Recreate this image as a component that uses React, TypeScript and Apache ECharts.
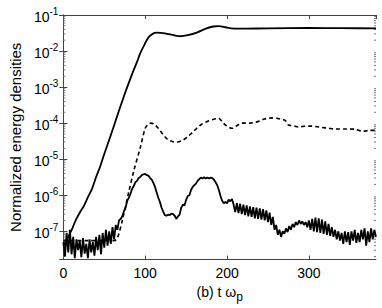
import React, { useEffect, useRef } from "react";
import * as echarts from "echarts";

// ---- axis ranges / ticks ----
const X_MIN = 0;
const X_MAX = 382;
const X_INTERVAL = 100;
const Y_MIN = 1.64e-8;
const Y_MAX = 1e-1;
const MINOR_MANTISSAS = [2, 3, 4, 5, 6, 7, 8, 9];
const MINOR_DECADES = [1e-8, 1e-7, 1e-6, 1e-5, 1e-4, 1e-3, 1e-2];

const X_NAME = "(b) t ω";
const X_NAME_SUB = "p";
const Y_NAME = "Normalized energy densities";

// ---- series 1: upper solid line ----
const upperT = [0, 5, 10, 15, 21, 25, 30, 35, 40, 45, 50, 57, 65, 74, 78, 84, 90, 94, 100, 104, 109, 114, 124, 135, 143, 152, 163, 175, 183, 190, 198, 205, 214, 250, 300, 340, 382];
const upperV = [4.0e-8, 6.3e-8, 1.07e-7, 2.0e-7, 3.6e-7, 5.0e-7, 8.9e-7, 1.5e-6, 3.2e-6, 6.3e-6, 1.4e-5, 4.0e-5, 1.4e-4, 5.6e-4, 1.0e-3, 2.3e-3, 5.0e-3, 8.7e-3, 1.66e-2, 2.4e-2, 3.0e-2, 3.24e-2, 3.1e-2, 2.75e-2, 2.57e-2, 2.75e-2, 3.24e-2, 4.27e-2, 4.8e-2, 4.9e-2, 4.57e-2, 4.27e-2, 4.17e-2, 4.27e-2, 4.37e-2, 4.3e-2, 4.27e-2];

// ---- series 2: dashed line ----
const dashT = [0, 30, 62, 66, 72, 80, 86, 94, 100, 104, 107, 111, 116, 122, 127.5, 133, 139, 145, 151, 157, 163, 169, 175, 182, 190, 194, 198, 206, 212, 218, 222, 228, 234, 240, 245.6, 255, 262, 267, 271, 275, 281, 287, 294, 301, 308, 316, 324, 332, 345, 356, 366, 374, 382];
const dashV = [5.5e-8, 5.5e-8, 5.5e-8, 6.5e-8, 2.0e-7, 1.26e-6, 4.7e-6, 2.1e-5, 7.2e-5, 9.5e-5, 1.0e-4, 9.3e-5, 7.2e-5, 4.8e-5, 3.5e-5, 3.1e-5, 3.0e-5, 3.3e-5, 4.0e-5, 5.4e-5, 7.2e-5, 9.3e-5, 1.1e-4, 1.25e-4, 1.35e-4, 1.1e-4, 8.9e-5, 7.2e-5, 8.5e-5, 1.0e-4, 1.0e-4, 1.0e-4, 1.05e-4, 1.15e-4, 1.3e-4, 1.4e-4, 1.35e-4, 1.26e-4, 1.2e-4, 8.9e-5, 8.5e-5, 7.8e-5, 8.2e-5, 8.3e-5, 8.1e-5, 7.6e-5, 7.2e-5, 6.9e-5, 6.9e-5, 6.8e-5, 5.9e-5, 6.3e-5, 6.3e-5];

// ---- series 3: lower noisy solid line, sampled every LOW_STEP from LOW_T0 ----
const LOW_T0 = 0;
const LOW_STEP = 2;
const lowV = [
  // t = 0 .. 68
  5.0e-8, 2.0e-8, 9.0e-8, 2.6e-8, 1.1e-7, 2.3e-8, 7.0e-8, 1.8e-8, 6.0e-8, 3.0e-8,
  5.5e-8, 1.9e-8, 6.5e-8, 2.4e-8, 4.5e-8, 1.8e-8, 6.0e-8, 2.6e-8, 5.0e-8, 2.1e-8,
  7.0e-8, 3.0e-8, 8.0e-8, 2.3e-8, 9.0e-8, 3.5e-8, 1.1e-7, 4.0e-8, 1.0e-7, 4.5e-8,
  1.3e-7, 6.0e-8, 1.5e-7, 1.1e-7, 2.0e-7,
  // t = 70 .. 206
  2.2e-7, 2.6e-7, 3.6e-7, 4.5e-7, 7.0e-7, 8.5e-7, 1.1e-6, 1.5e-6, 1.8e-6, 2.3e-6,
  2.5e-6, 3.0e-6, 3.2e-6, 3.7e-6, 3.8e-6, 3.9e-6, 3.6e-6, 3.5e-6, 3.0e-6, 2.7e-6,
  2.2e-6, 1.7e-6, 1.2e-6, 8.5e-7, 6.5e-7, 4.5e-7, 3.5e-7, 2.8e-7, 2.7e-7, 2.9e-7,
  2.8e-7, 3.1e-7, 3.0e-7, 2.7e-7, 2.2e-7, 2.6e-7, 2.9e-7, 4.5e-7, 5.5e-7, 5.2e-7,
  7.5e-7, 9.5e-7, 1.0e-6, 1.4e-6, 1.7e-6, 1.9e-6, 2.1e-6, 2.5e-6, 2.8e-6, 3.1e-6,
  2.9e-6, 3.2e-6, 2.9e-6, 3.1e-6, 2.9e-6, 3.1e-6, 3.0e-6, 2.7e-6, 2.3e-6, 1.9e-6,
  1.4e-6, 9.5e-7, 7.0e-7, 6.0e-7, 6.5e-7, 6.0e-7, 7.5e-7, 6.8e-7, 7.9e-7,
  // t = 208 .. 266
  5.5e-7, 3.4e-7, 6.0e-7, 3.2e-7, 5.8e-7, 3.0e-7, 5.5e-7, 2.8e-7, 5.2e-7, 2.6e-7,
  4.9e-7, 2.5e-7, 4.7e-7, 2.3e-7, 4.5e-7, 2.2e-7, 4.3e-7, 2.1e-7, 4.1e-7, 2.0e-7,
  3.8e-7, 1.8e-7, 3.3e-7, 1.5e-7, 2.5e-7, 1.1e-7, 1.5e-7, 8.0e-8, 1.1e-7, 7.0e-8,
  // t = 268 .. 382
  1.0e-7, 8.5e-8, 1.2e-7, 9.5e-8, 1.4e-7, 1.1e-7, 1.6e-7, 1.3e-7, 1.8e-7, 1.5e-7,
  2.0e-7, 1.6e-7, 1.9e-7, 1.5e-7, 1.8e-7, 1.3e-7, 2.0e-7, 1.1e-7, 2.2e-7, 1.0e-7,
  2.4e-7, 9.5e-8, 2.3e-7, 9.0e-8, 2.1e-7, 8.5e-8, 1.9e-7, 8.0e-8, 1.6e-7, 7.5e-8,
  1.3e-7, 7.0e-8, 1.1e-7, 6.0e-8, 1.0e-7, 5.5e-8, 9.0e-8, 4.5e-8, 1.0e-7, 5.0e-8,
  9.5e-8, 4.2e-8, 1.0e-7, 5.5e-8, 1.1e-7, 4.8e-8, 9.0e-8, 5.0e-8, 1.1e-7, 6.0e-8,
  1.2e-7, 4.0e-8, 1.0e-7, 5.0e-8, 1.2e-7, 6.0e-8, 1.1e-7, 7.0e-8,
];

const FONT = "'Liberation Sans', Arial, Helvetica, sans-serif";
const FRAME = "#444";

function pairs(ts: number[], vs: number[]) {
  return ts.map((t, i) => [t, vs[i]]);
}

function logLabel(v: number) {
  const e = Math.log10(v);
  const r = Math.round(e);
  if (Math.abs(e - r) > 1e-6) return "";
  return `{b|10}{s|${r}}`;
}

export default function App() {
  const ref = useRef<HTMLDivElement>(null);
  useEffect(() => {
    if (!ref.current) return;
    const chart = echarts.init(ref.current, undefined, { renderer: "svg" });

    const lowData = lowV.map((v, i) => [LOW_T0 + i * LOW_STEP, v]);
    const minorData: number[][] = [];
    MINOR_DECADES.forEach((d) =>
      MINOR_MANTISSAS.forEach((m) => {
        const v = m * d;
        if (v > Y_MIN && v < Y_MAX) minorData.push([X_MIN, v]);
      })
    );

    const xCommon = {
      type: "value" as const,
      min: X_MIN,
      max: X_MAX,
      interval: X_INTERVAL,
      splitLine: { show: false },
      axisLine: { show: true, lineStyle: { color: FRAME, width: 1 } },
      axisTick: { show: true, inside: true, length: 4, lineStyle: { color: FRAME } },
    };
    const yCommon = {
      type: "log" as const,
      logBase: 10,
      min: Y_MIN,
      max: Y_MAX,
      splitLine: { show: false },
      axisLine: { show: true, lineStyle: { color: FRAME, width: 1 } },
      axisTick: { show: true, inside: true, length: 4, lineStyle: { color: FRAME } },
    };

    chart.setOption({
      animation: false,
      backgroundColor: "#fff",
      grid: { left: 52, right: 6, top: 15, bottom: 37, containLabel: false },
      xAxis: [
        {
          ...xCommon,
          position: "bottom",
          axisLabel: { color: "#000", fontSize: 14, fontFamily: FONT, margin: 6, showMaxLabel: false },
          name: `${X_NAME}{sub|${X_NAME_SUB}}`,
          nameLocation: "middle",
          nameGap: 18,
          nameTextStyle: {
            color: "#000",
            fontSize: 14,
            fontFamily: FONT,
            rich: { sub: { fontSize: 12, fontFamily: FONT, color: "#000", verticalAlign: "bottom", padding: [11, 0, 0, 0] } },
          },
        },
        {
          ...xCommon,
          position: "top",
          axisLabel: { show: false },
        },
      ],
      yAxis: [
        {
          ...yCommon,
          position: "left",
          axisLabel: {
            color: "#000",
            fontFamily: FONT,
            margin: 5,
            showMinLabel: false,
            formatter: logLabel,
            rich: {
              b: { fontSize: 14, fontFamily: FONT, color: "#000", lineHeight: 18, verticalAlign: "bottom" },
              s: { fontSize: 10, fontFamily: FONT, color: "#000", lineHeight: 18, verticalAlign: "top", padding: [0, 0, 12, 0] },
            },
          },
          name: Y_NAME,
          nameLocation: "middle",
          nameGap: 33,
          nameTextStyle: { color: "#000", fontSize: 15, fontFamily: FONT },
        },
        {
          ...yCommon,
          position: "right",
          axisLabel: { show: false },
        },
      ],
      series: [
        {
          type: "custom",
          silent: true,
          clip: false,
          xAxisIndex: 0,
          yAxisIndex: 0,
          data: minorData,
          renderItem: (_p: any, api: any) => {
            const v = api.value(1);
            const pl = api.coord([X_MIN, v]);
            const pr = api.coord([X_MAX, v]);
            return {
              type: "group",
              children: [
                { type: "line", shape: { x1: pl[0], y1: pl[1], x2: pl[0] + 2, y2: pl[1] }, style: { stroke: "#777", lineWidth: 1 } },
                { type: "line", shape: { x1: pr[0], y1: pr[1], x2: pr[0] - 2, y2: pr[1] }, style: { stroke: "#777", lineWidth: 1 } },
              ],
            };
          },
        },
        {
          type: "line",
          data: lowData,
          showSymbol: false,
          lineStyle: { color: "#000", width: 1.8 },
          z: 3,
        },
        {
          type: "line",
          data: pairs(dashT, dashV),
          showSymbol: false,
          smooth: 0.3,
          lineStyle: { color: "#000", width: 1.6, type: [4, 3] },
          z: 4,
        },
        {
          type: "line",
          data: pairs(upperT, upperV),
          showSymbol: false,
          smooth: 0.3,
          lineStyle: { color: "#000", width: 1.8 },
          z: 5,
        },
      ],
    });
    return () => chart.dispose();
  }, []);
  return (
    <div
      ref={ref}
      style={{ position: "fixed", left: 0, top: 0, width: 382, height: 308, background: "#fff" }}
    />
  );
}
